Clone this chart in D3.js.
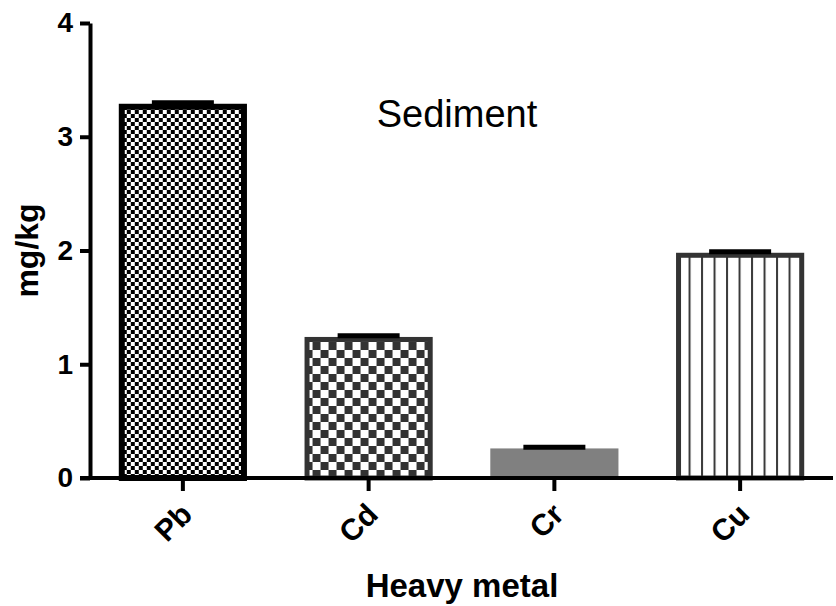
<!DOCTYPE html>
<html>
<head>
<meta charset="utf-8">
<script src="https://cdn.jsdelivr.net/npm/d3@7"></script>
<style>
  body { margin: 0; background: #fff; }
  svg { display: block; font-family: "Liberation Sans", Arial, sans-serif; }
</style>
</head>
<body>
<svg id="chart" width="836" height="606"></svg>
<script>
// values
const metals = ['Pb', 'Cd', 'Cr', 'Cu'];
const means = [3.29, 1.24, 0.26, 1.98];
const errs = [0.01, 0.01, 0.01, 0.01];
const yTicks = [0, 1, 2, 3, 4];

const opt = {
    left: 90, right: 833, top: 23, bottom: 478,
    axisWidth: 4
};

const svg = d3.select('#chart');
const defs = svg.append('defs');

const x = d3.scaleBand().domain(metals)
    .range([opt.left, opt.right])
    .paddingInner(0.31).paddingOuter(0.155);
const y = d3.scaleLinear().domain([0, 4]).range([opt.bottom, opt.top]);

// fill style per bar
const styles = {
    Pb: {stroke: '#000', sw: 6, pattern: 'fine'},
    Cd: {stroke: '#333', sw: 5, pattern: 'coarse'},
    Cr: {stroke: 'none', sw: 0, fill: '#808080'},
    Cu: {stroke: '#333', sw: 5, pattern: 'stripe'}
};

function makePattern(name, kind, x0, y0) {
    const p = defs.append('pattern').attr('id', 'pat' + name)
        .attr('patternUnits', 'userSpaceOnUse')
        .attr('x', x0).attr('y', y0);
    if (kind === 'fine' || kind === 'coarse') {
        const s = kind === 'fine' ? 4 : 8;
        const c = kind === 'fine' ? '#000' : '#333';
        p.attr('width', s * 2).attr('height', s * 2);
        p.append('rect').attr('width', s * 2).attr('height', s * 2).attr('fill', '#fff');
        p.append('rect').attr('width', s).attr('height', s).attr('fill', c);
        p.append('rect').attr('x', s).attr('y', s).attr('width', s).attr('height', s).attr('fill', c);
    } else {
        p.attr('width', 12.5).attr('height', 10);
        p.append('rect').attr('width', 12.5).attr('height', 10).attr('fill', '#fff');
        p.append('rect').attr('x', 0).attr('width', 2).attr('height', 10).attr('fill', '#3a3a3a');
    }
}

const data = metals.map((m, i) => ({name: m, v: means[i], e: errs[i]}));
data.forEach(d => {
    const st = styles[d.name];
    if (st.pattern) makePattern(d.name, st.pattern, x(d.name), opt.bottom);
});

const bars = svg.append('g').attr('class', 'bars');
bars.selectAll('rect').data(data).join('rect')
    .attr('x', d => x(d.name) + styles[d.name].sw / 2)
    .attr('y', d => y(d.v) + styles[d.name].sw / 2)
    .attr('width', d => x.bandwidth() - styles[d.name].sw)
    .attr('height', d => y(0) - y(d.v) - styles[d.name].sw / 2)
    .attr('fill', d => styles[d.name].fill || `url(#pat${d.name})`)
    .attr('stroke', d => styles[d.name].stroke)
    .attr('stroke-width', d => styles[d.name].sw);

// error bars (upper only)
const eb = svg.append('g').attr('class', 'errors');
eb.selectAll('line.cap').data(data).join('line')
    .attr('class', 'cap')
    .attr('x1', d => x(d.name) + x.bandwidth() / 2 - 31)
    .attr('x2', d => x(d.name) + x.bandwidth() / 2 + 31)
    .attr('y1', d => y(d.v + d.e))
    .attr('y2', d => y(d.v + d.e))
    .attr('stroke', '#000').attr('stroke-width', 5);

// y axis
const yAxis = svg.append('g')
    .attr('transform', `translate(${opt.left},0)`)
    .call(d3.axisLeft(y).tickValues(yTicks).tickFormat(d3.format('d'))
        .tickSize(10).tickSizeOuter(0).tickPadding(7));
yAxis.select('.domain').attr('stroke-width', opt.axisWidth).attr('stroke', '#000');
yAxis.selectAll('.tick line').attr('stroke-width', opt.axisWidth).attr('stroke', '#000');
yAxis.selectAll('.tick text')
    .attr('font-size', 28).attr('font-weight', 'bold').attr('fill', '#000')
    .attr('font-family', '"Liberation Sans", Arial, sans-serif');

// x axis
const xAxis = svg.append('g')
    .attr('transform', `translate(0,${opt.bottom})`)
    .call(d3.axisBottom(x).tickSize(13).tickSizeOuter(0).tickPadding(0));
xAxis.select('.domain').remove();
xAxis.append('line')
    .attr('x1', opt.left - 10).attr('x2', opt.right)
    .attr('stroke', '#000').attr('stroke-width', opt.axisWidth);
xAxis.selectAll('.tick line').attr('stroke-width', opt.axisWidth).attr('stroke', '#000');
xAxis.selectAll('.tick text')
    .attr('font-size', 30).attr('font-weight', 'bold').attr('fill', '#000')
    .attr('font-family', '"Liberation Sans", Arial, sans-serif')
    .attr('text-anchor', 'end')
    .attr('dy', 0)
    .attr('transform', 'translate(2,29) rotate(-45)');

// titles
svg.append('text')
    .attr('x', 457).attr('y', 127)
    .attr('text-anchor', 'middle')
    .attr('font-size', 38)
    .text('Sediment');

svg.append('text')
    .attr('x', 462).attr('y', 597)
    .attr('text-anchor', 'middle')
    .attr('font-size', 33).attr('font-weight', 'bold')
    .text('Heavy metal');

svg.append('text')
    .attr('transform', `translate(38,${(opt.top + opt.bottom) / 2}) rotate(-90)`)
    .attr('text-anchor', 'middle')
    .attr('font-size', 32).attr('font-weight', 'bold')
    .text('mg/kg');
</script>
</body>
</html>
